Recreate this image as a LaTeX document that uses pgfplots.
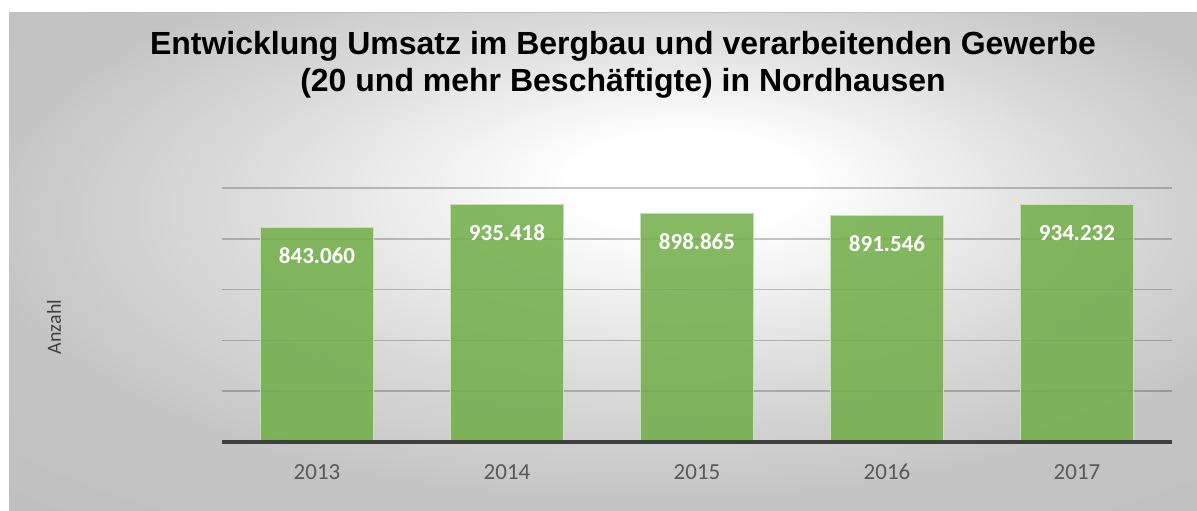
\documentclass[border=0pt]{standalone}
\usepackage{fontspec}
\setmainfont{Carlito}
\newfontfamily\titlefont{Liberation Sans}
\usepackage{pgfplots}
\pgfplotsset{compat=1.18}
\definecolor{barfill}{RGB}{112,173,71}
\definecolor{baredge}{RGB}{197,224,180}
\definecolor{ticktext}{RGB}{89,89,89}
\definecolor{axisdark}{RGB}{64,64,64}
% background: light centre, grey edges
\pgfdeclareradialshading{bgshade}{\pgfpoint{4bp}{9bp}}{color(0bp)=(white); color(5bp)=(white); color(18bp)=(black!14); color(28bp)=(black!23); color(50bp)=(black!27)}

\begin{document}
\begin{tikzpicture}
\useasboundingbox (0pt,0pt) rectangle (1197pt,511pt);
\fill[white] (0pt,0pt) rectangle (1197pt,511pt);
\shade[shading=bgshade] (9pt,0pt) rectangle (1197pt,498pt);
\draw[black!25, line width=1pt] (9pt,498pt) -- (1197pt,498pt);

\node[font=\titlefont\bfseries\fontsize{32}{38}\selectfont, anchor=base] at (623pt,456pt)
  {Entwicklung Umsatz im Bergbau und verarbeitenden Gewerbe};
\node[font=\titlefont\bfseries\fontsize{32}{38}\selectfont, anchor=base] at (623pt,419pt)
  {(20 und mehr Beschäftigte) in Nordhausen};

\node[rotate=90, font=\fontsize{20}{20}\selectfont, text=axisdark] at (54pt,184pt) {Anzahl};

\begin{axis}[
  at={(222pt,69pt)}, anchor=south west,
  scale only axis, width=950pt, height=254pt,
  xmin=-0.5, xmax=4.5, ymin=0, ymax=1000000,
  clip=false,
  axis line style={draw=none},
  tick style={draw=none},
  xtick={0,1,2,3,4},
  xticklabels={2013,2014,2015,2016,2017},
  xticklabel style={font=\fontsize{23}{23}\selectfont, text=ticktext, anchor=center, yshift=-30pt},
  ytick={0,200000,400000,600000,800000,1000000},
  yticklabels={},
  scaled y ticks=false,
  ymajorgrids,
  grid style={line width=1.5pt, black, opacity=0.22},
]
\addplot[ybar, bar width=0.595, fill=barfill, fill opacity=0.85, draw=baredge, line width=0.8pt,
  nodes near coords, point meta=explicit symbolic,
  every node near coord/.append style={font=\bfseries\fontsize{23}{23}\selectfont, text=white,
    text opacity=1, anchor=center, yshift=-28pt}]
  coordinates {(0,843060)[843.060] (1,935418)[935.418] (2,898865)[898.865] (3,891546)[891.546] (4,934232)[934.232]};
\draw[line width=4pt, axisdark] (axis cs:-0.5,0) -- (axis cs:4.5,0);
\end{axis}
\end{tikzpicture}
\end{document}
